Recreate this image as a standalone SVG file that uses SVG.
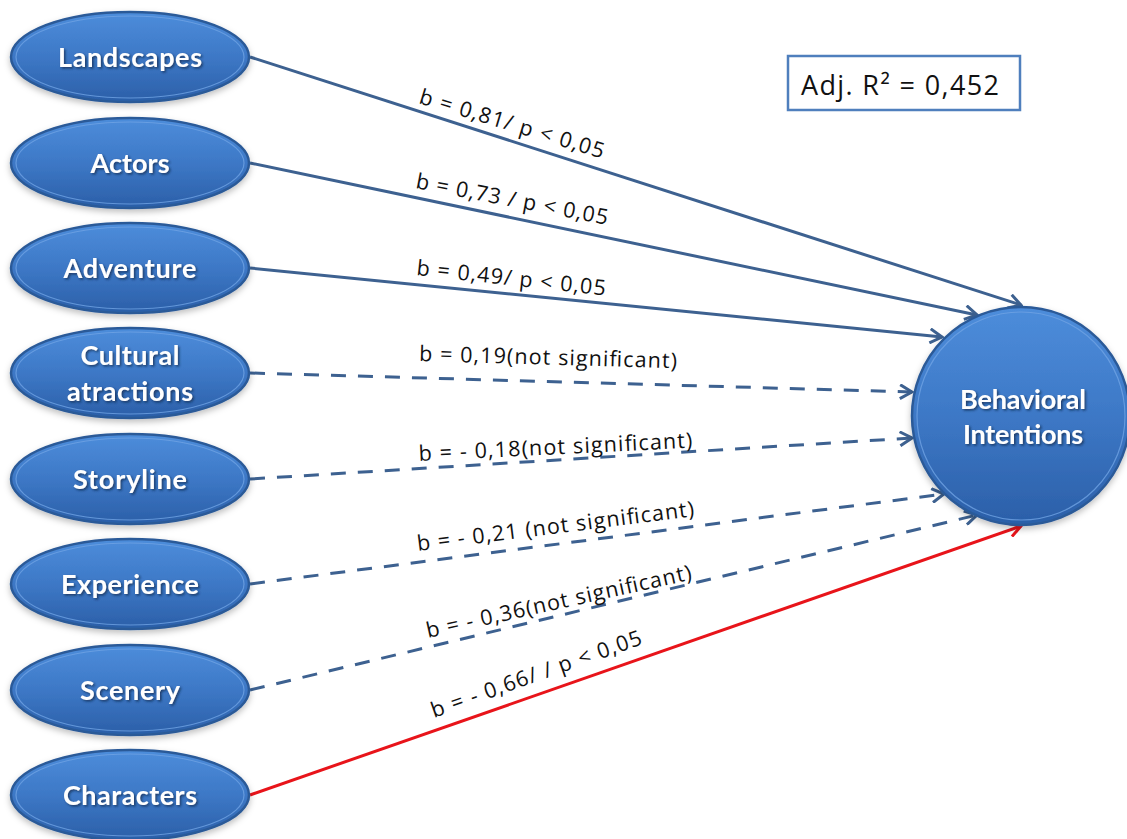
<svg xmlns="http://www.w3.org/2000/svg" width="1127" height="839" viewBox="0 0 1127 839">
<defs>
<linearGradient id="g" x1="0" y1="0" x2="0" y2="1">
<stop offset="0" stop-color="#4d8ddb"/>
<stop offset="0.5" stop-color="#3d78c6"/>
<stop offset="1" stop-color="#2b5fa8"/>
</linearGradient>
<filter id="ts" x="-10%" y="-30%" width="120%" height="160%">
<feDropShadow dx="1.5" dy="1.5" stdDeviation="1" flood-color="#0c2340" flood-opacity="0.7"/>
</filter>
<filter id="ns" x="-10%" y="-20%" width="120%" height="150%">
<feDropShadow dx="0" dy="3" stdDeviation="3" flood-color="#000" flood-opacity="0.25"/>
</filter>
<marker id="ab" viewBox="0 0 16 16" refX="14" refY="8" markerWidth="16" markerHeight="16" markerUnits="userSpaceOnUse" orient="auto">
<path d="M2,1 L14,8 L2,15" fill="none" stroke="#3d6190" stroke-width="3" stroke-linejoin="miter"/>
</marker>
<marker id="ar" viewBox="0 0 16 16" refX="14" refY="8" markerWidth="16" markerHeight="16" markerUnits="userSpaceOnUse" orient="auto">
<path d="M2,1 L14,8 L2,15" fill="none" stroke="#e8141a" stroke-width="3"/>
</marker>
</defs>
<style>
.n{fill:url(#g);stroke:#2c5a98;stroke-width:2.5}
.ring{fill:none;stroke:#6fa2e3;stroke-width:1.2;opacity:0.8}
.nt{font-family:Lato,"Liberation Sans",sans-serif;font-weight:bold;font-size:27px;fill:#fff;text-anchor:middle}
.c{fill:none;stroke:#3d6190;stroke-width:3}
.d{stroke-dasharray:15 12}
.r{fill:none;stroke:#e8141a;stroke-width:3}
.lb{font-family:"Open Sans","Liberation Sans",sans-serif;font-size:21.5px;fill:#111}
</style>

<g id="connectors">
<line class="c" x1="250" y1="57" x2="1021" y2="305" marker-end="url(#ab)"/>
<line class="c" x1="250" y1="163" x2="977" y2="315" marker-end="url(#ab)"/>
<line class="c" x1="250" y1="268" x2="942" y2="337" marker-end="url(#ab)"/>
<line class="c d" x1="250" y1="373" x2="912" y2="392" marker-end="url(#ab)"/>
<line class="c d" x1="250" y1="479" x2="912" y2="438" marker-end="url(#ab)"/>
<line class="c d" x1="250" y1="584" x2="944" y2="494" marker-end="url(#ab)"/>
<line class="c d" x1="250" y1="690" x2="977" y2="515" marker-end="url(#ab)"/>
<line class="r" x1="250" y1="795" x2="1021" y2="526" marker-end="url(#ar)"/>
</g>

<g id="labels">
<text class="lb" transform="translate(418,103) rotate(16.8)" textLength="192">b = 0,81/ p &lt; 0,05</text>
<text class="lb" transform="translate(415,188) rotate(10.9)" textLength="195">b = 0,73 / p &lt; 0,05</text>
<text class="lb" transform="translate(416,275) rotate(6.2)" textLength="190">b = 0,49/ p &lt; 0,05</text>
<text class="lb" transform="translate(419,361) rotate(1.6)" textLength="258">b = 0,19(not significant)</text>
<text class="lb" transform="translate(419,461) rotate(-2.8)" textLength="274">b = - 0,18(not significant)</text>
<text class="lb" transform="translate(418,551) rotate(-7.2)" textLength="279">b = - 0,21 (not significant)</text>
<text class="lb" transform="translate(428,638) rotate(-12.5)" textLength="271">b = - 0,36(not significant)</text>
<text class="lb" transform="translate(434,718) rotate(-19.5)" textLength="222">b = - 0,66/ / p &lt; 0,05</text>
</g>

<g id="n-landscapes" filter="url(#ns)">
<ellipse class="n" cx="130" cy="57" rx="119" ry="45"/>
<ellipse class="ring" cx="130" cy="57" rx="114" ry="41"/>
<text class="nt" x="130" y="67" textLength="144" filter="url(#ts)">Landscapes</text>
</g>
<g id="n-actors" filter="url(#ns)">
<ellipse class="n" cx="130" cy="163" rx="119" ry="45"/>
<ellipse class="ring" cx="130" cy="163" rx="114" ry="41"/>
<text class="nt" x="130" y="173" textLength="79" filter="url(#ts)">Actors</text>
</g>
<g id="n-adventure" filter="url(#ns)">
<ellipse class="n" cx="130" cy="268" rx="119" ry="45"/>
<ellipse class="ring" cx="130" cy="268" rx="114" ry="41"/>
<text class="nt" x="130" y="278" textLength="133" filter="url(#ts)">Adventure</text>
</g>
<g id="n-cultural" filter="url(#ns)">
<ellipse class="n" cx="130" cy="373" rx="119" ry="45"/>
<ellipse class="ring" cx="130" cy="373" rx="114" ry="41"/>
<text class="nt" x="130" y="365" textLength="99" filter="url(#ts)">Cultural</text>
<text class="nt" x="130" y="401" textLength="126" filter="url(#ts)">atractions</text>
</g>
<g id="n-storyline" filter="url(#ns)">
<ellipse class="n" cx="130" cy="479" rx="119" ry="45"/>
<ellipse class="ring" cx="130" cy="479" rx="114" ry="41"/>
<text class="nt" x="130" y="489" textLength="114" filter="url(#ts)">Storyline</text>
</g>
<g id="n-experience" filter="url(#ns)">
<ellipse class="n" cx="130" cy="584" rx="119" ry="45"/>
<ellipse class="ring" cx="130" cy="584" rx="114" ry="41"/>
<text class="nt" x="130" y="594" textLength="138" filter="url(#ts)">Experience</text>
</g>
<g id="n-scenery" filter="url(#ns)">
<ellipse class="n" cx="130" cy="690" rx="119" ry="45"/>
<ellipse class="ring" cx="130" cy="690" rx="114" ry="41"/>
<text class="nt" x="130" y="700" textLength="100" filter="url(#ts)">Scenery</text>
</g>
<g id="n-characters" filter="url(#ns)">
<ellipse class="n" cx="130" cy="795" rx="119" ry="45"/>
<ellipse class="ring" cx="130" cy="795" rx="114" ry="41"/>
<text class="nt" x="130" y="805" textLength="134" filter="url(#ts)">Characters</text>
</g>
<g id="n-behavioral" filter="url(#ns)">
<circle class="n" cx="1021" cy="416" r="109"/>
<circle class="ring" cx="1021" cy="416" r="104"/>
<text class="nt" x="1023" y="409" textLength="126" filter="url(#ts)">Behavioral</text>
<text class="nt" x="1023" y="444" textLength="120" filter="url(#ts)">Intentions</text>
</g>

<g id="r2box">
<rect x="788" y="56" width="232" height="54" fill="#fff" stroke="#4f7fbd" stroke-width="2.5"/>
<text x="801" y="95" font-family="'Open Sans','Liberation Sans',sans-serif" font-size="27px" fill="#111" textLength="198">Adj. R² = 0,452</text>
</g>
</svg>
